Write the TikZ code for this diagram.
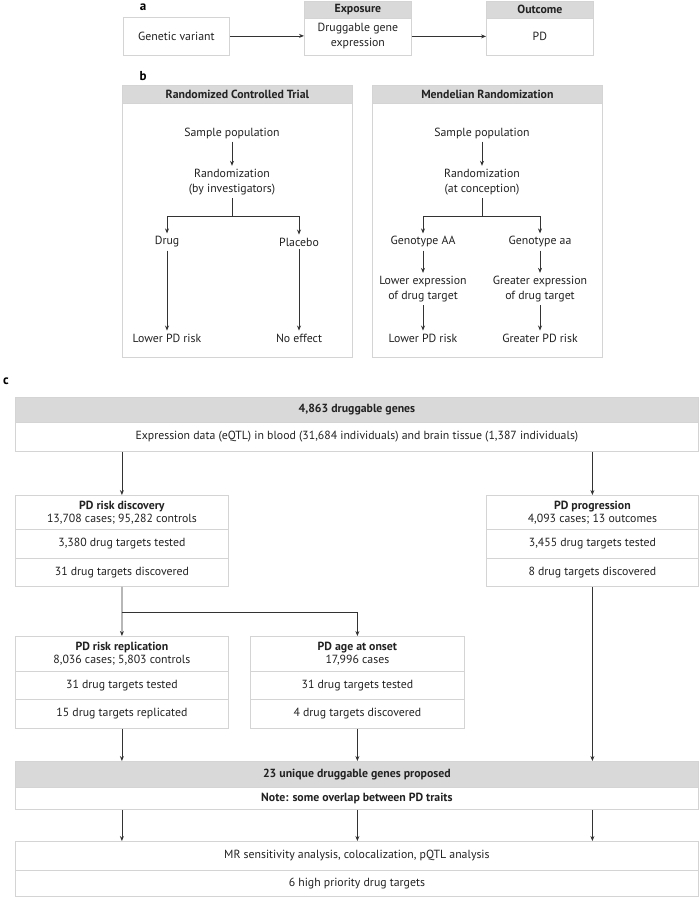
\documentclass[tikz,border=0pt]{standalone}
\usepackage{fontspec}
\setmainfont{PT Sans}
\usetikzlibrary{arrows.meta}
\definecolor{headgray}{HTML}{D9D9D9}
\definecolor{bordergray}{HTML}{D4D4D4}
\definecolor{linegray}{HTML}{333333}
\definecolor{textgray}{HTML}{222222}
\begin{document}
\begin{tikzpicture}[x=1pt,y=-1pt,
  every node/.style={text=textgray, font=\fontsize{11.8}{15}\selectfont},
  box/.style={draw=bordergray, line width=0.8pt, fill=white, inner sep=0pt, anchor=north west, align=center},
  hbox/.style={box, fill=headgray, font=\fontsize{11.8}{15}\selectfont\bfseries},
  txt/.style={align=center, inner sep=3pt},
  lbl/.style={font=\fontsize{13}{15}\selectfont\bfseries, text=black, inner sep=0pt},
  arr/.style={draw=linegray, line width=0.8pt, -{Stealth[length=5pt,width=4pt]}},
  ln/.style={draw=linegray, line width=0.8pt}
]
\useasboundingbox (0,0) rectangle (700,897);

% ---------- panel a ----------
\node[lbl] (la) at (143,7) {a};
\node[box, minimum width=106pt, minimum height=38pt] (gv) at (123,16.5) {Genetic variant};
\node[hbox, minimum width=107pt, minimum height=17pt] (exph) at (304,0.5) {Exposure};
\node[box, minimum width=107pt, minimum height=37pt] (expb) at (304,17.5) {Druggable gene\\expression};
\node[hbox, minimum width=107pt, minimum height=17pt] (outh) at (486,0.5) {Outcome};
\node[box, minimum width=107pt, minimum height=37pt] (outb) at (486,17.5) {PD};
\draw[arr] (gv.east) -- (gv.east -| expb.west);
\draw[arr] (expb.east) -- (outb.west);

% ---------- panel b ----------
\node[lbl] (lb) at (143,76) {b};
% RCT
\node[hbox, minimum width=230pt, minimum height=18pt] (rcth) at (122,85) {Randomized Controlled Trial};
\node[box, minimum width=230pt, minimum height=254pt] (rctb) at (122,103) {};
\node[txt] (sp1) at (232,133) {Sample population};
\node[txt] (rand1) at (232,182) {Randomization\\(by investigators)};
\coordinate (j1) at (232,216);
\node[txt] (drug) at (167,242) {Drug};
\node[txt] (placebo) at (299,242) {Placebo};
\node[txt] (low1) at (167,338) {Lower PD risk};
\node[txt] (noeff) at (299,338) {No effect};
\draw[arr] (sp1) -- (rand1);
\draw[ln] (rand1.south) -- (j1);
\draw[arr] (j1) -| (drug.north);
\draw[arr] (j1) -| (placebo.north);
\draw[arr] (drug) -- (low1);
\draw[arr] (placebo) -- (noeff);
% MR
\node[hbox, minimum width=230pt, minimum height=18pt] (mrh) at (372,85) {Mendelian Randomization};
\node[box, minimum width=230pt, minimum height=254pt] (mrb) at (372,103) {};
\node[txt] (sp2) at (482,133) {Sample population};
\node[txt] (rand2) at (482,182) {Randomization\\(at conception)};
\coordinate (j2) at (482,216);
\node[txt] (gAA) at (423,242) {Genotype AA};
\node[txt] (gaa) at (540,242) {Genotype aa};
\node[txt] (lexp) at (423,289) {Lower expression\\of drug target};
\node[txt] (gexp) at (540,289) {Greater expression\\of drug target};
\node[txt] (lrisk) at (423,338) {Lower PD risk};
\node[txt] (grisk) at (540,338) {Greater PD risk};
\draw[arr] (sp2) -- (rand2);
\draw[ln] (rand2.south) -- (j2);
\draw[arr] (j2) -| (gAA.north);
\draw[arr] (j2) -| (gaa.north);
\draw[arr] (gAA) -- (lexp);
\draw[arr] (gaa) -- (gexp);
\draw[arr] (lexp) -- (lrisk);
\draw[arr] (gexp) -- (grisk);

% ---------- panel c ----------
\node[lbl] (lc) at (6,381) {c};
\node[hbox, minimum width=683pt, minimum height=25pt] (toph) at (15,397) {4,863 druggable genes};
\node[box, minimum width=683pt, minimum height=29pt] (topb) at (15,422) {Expression data (eQTL) in blood (31,684 individuals) and brain tissue (1,387 individuals)};

\node[box, minimum width=213pt, minimum height=34pt] (disc1) at (15,495) {\textbf{PD risk discovery}\\[-2pt]13,708 cases; 95,282 controls};
\node[box, minimum width=213pt, minimum height=29pt] (disc2) at (15,529) {3,380 drug targets tested};
\node[box, minimum width=213pt, minimum height=28pt] (disc3) at (15,558) {31 drug targets discovered};

\node[box, minimum width=212pt, minimum height=34pt] (prog1) at (486,495) {\textbf{PD progression}\\[-2pt]4,093 cases; 13 outcomes};
\node[box, minimum width=212pt, minimum height=29pt] (prog2) at (486,529) {3,455 drug targets tested};
\node[box, minimum width=212pt, minimum height=28pt] (prog3) at (486,558) {8 drug targets discovered};

\coordinate (j3) at (122,612);
\node[box, minimum width=213pt, minimum height=35pt] (rep1) at (15,636) {\textbf{PD risk replication}\\[-2pt]8,036 cases; 5,803 controls};
\node[box, minimum width=213pt, minimum height=28pt] (rep2) at (15,671) {31 drug targets tested};
\node[box, minimum width=213pt, minimum height=29pt] (rep3) at (15,699) {15 drug targets replicated};

\node[box, minimum width=214pt, minimum height=35pt] (age1) at (250,636) {\textbf{PD age at onset}\\[-2pt]17,996 cases};
\node[box, minimum width=214pt, minimum height=28pt] (age2) at (250,671) {31 drug targets tested};
\node[box, minimum width=214pt, minimum height=29pt] (age3) at (250,699) {4 drug targets discovered};

\node[hbox, minimum width=683pt, minimum height=26pt] (u1) at (15,761) {23 unique druggable genes proposed};
\node[box, minimum width=683pt, minimum height=22pt, font=\fontsize{11.8}{15}\selectfont\bfseries] (u2) at (15,787) {Note: some overlap between PD traits};

\node[box, minimum width=683pt, minimum height=29pt] (m1) at (15,841) {MR sensitivity analysis, colocalization, pQTL analysis};
\node[box, minimum width=683pt, minimum height=26pt] (m2) at (15,870) {6 high priority drug targets};

\draw[arr] (topb.south -| disc1.north) -- (disc1.north);
\draw[arr] (topb.south -| prog1.north) -- (prog1.north);
\draw[ln] (disc3.south) -- (j3);
\draw[arr] (j3) -- (rep1.north);
\draw[arr] (j3) -| (age1.north);
\draw[arr] (rep3.south) -- (u1.north -| rep3.south);
\draw[arr] (age3.south) -- (u1.north -| age3.south);
\draw[arr] (prog3.south) -- (u1.north -| prog3.south);
\draw[arr] (u2.south -| rep3.south) -- (m1.north -| rep3.south);
\draw[arr] (u2.south -| age3.south) -- (m1.north -| age3.south);
\draw[arr] (u2.south -| prog3.south) -- (m1.north -| prog3.south);
\end{tikzpicture}
\end{document}
